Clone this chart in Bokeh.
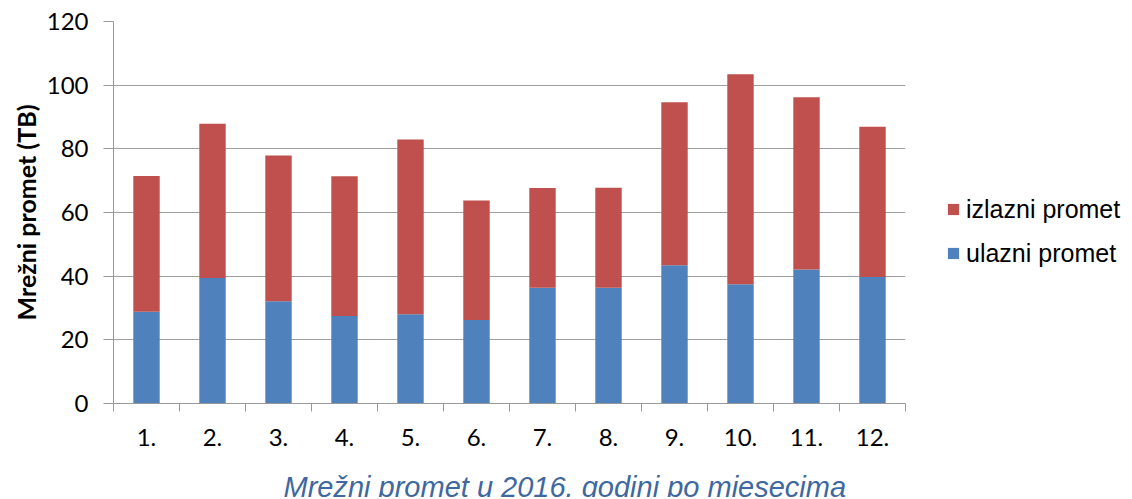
from bokeh.plotting import figure
from bokeh.layouts import column, row
from bokeh.models import (ColumnDataSource, Range1d, FixedTicker, Legend, LegendItem, Label)
from bokeh.embed import file_html
from bokeh.resources import INLINE

months = ["1.", "2.", "3.", "4.", "5.", "6.", "7.", "8.", "9.", "10.", "11.", "12."]
ulazni = [28.8, 39.4, 32.1, 27.5, 28.0, 26.2, 36.4, 36.4, 43.4, 37.5, 42.1, 39.7]
izlazni = [42.7, 48.5, 45.8, 43.9, 54.9, 37.6, 31.3, 31.4, 51.2, 65.9, 54.1, 47.2]
series_names = ["ulazni promet", "izlazni promet"]
series_colors = ["#4F81BD", "#C0504D"]
y_ticks = [0, 20, 40, 60, 80, 100, 120]
title_text = "Mrežni promet u 2016. godini po mjesecima"

pos = [i + 0.5 for i in range(len(months))]
bounds = [i for i in range(len(months) + 1)]

src = ColumnDataSource(dict(x=pos, ulazni=ulazni, izlazni=izlazni))

# ---------------- main chart ----------------
p = figure(width=910, height=455, output_backend="svg", toolbar_location=None,
           x_range=Range1d(0, len(months)), y_range=Range1d(0, 120),
           min_border_left=113, min_border_right=5, min_border_top=21, min_border_bottom=52)
p.outline_line_color = None

p.vbar_stack(["ulazni", "izlazni"], x="x", width=0.4, source=src,
             color=series_colors, line_color=None)

p.xgrid.visible = False
p.ygrid.ticker = FixedTicker(ticks=y_ticks)
p.ygrid.grid_line_color = "#a0a0a0"
p.ygrid.grid_line_width = 1

ya = p.yaxis[0]
ya.ticker = FixedTicker(ticks=y_ticks)
ya.axis_line_color = "#999999"
ya.major_tick_line_color = "#999999"
ya.major_tick_out = 10
ya.major_tick_in = 0
ya.minor_tick_out = 0
ya.minor_tick_in = 0
ya.major_label_text_font = "Lato"
ya.major_label_text_font_size = "24px"
ya.major_label_text_color = "#000000"
ya.major_label_standoff = 15
ya.axis_label = "Mrežni promet (TB)"
ya.axis_label_text_font = "Lato"
ya.axis_label_text_font_style = "bold"
ya.axis_label_text_font_size = "25px"
ya.axis_label_text_color = "#000000"
ya.axis_label_standoff = 3

xa = p.xaxis[0]
xa.ticker = FixedTicker(ticks=pos, minor_ticks=bounds)
xa.major_label_overrides = {pos[i]: months[i] for i in range(len(months))}
xa.axis_line_color = "#999999"
xa.major_tick_out = 0
xa.major_tick_in = 0
xa.minor_tick_out = 8
xa.minor_tick_in = 0
xa.minor_tick_line_color = "#999999"
xa.major_label_text_font = "Lato"
xa.major_label_text_font_size = "24px"
xa.major_label_text_color = "#000000"
xa.major_label_standoff = 17

# ---------------- legend panel ----------------
lg = figure(width=218, height=455, output_backend="svg", toolbar_location=None,
            x_range=Range1d(-100, -99), y_range=Range1d(0, 120),
            x_axis_type=None, y_axis_type=None,
            min_border_left=0, min_border_right=0, min_border_top=0, min_border_bottom=0)
lg.outline_line_color = None
lg.grid.visible = False
lrs = lg.vbar_stack(["ulazni", "izlazni"], x="x", width=0.4, source=src,
                    color=series_colors, line_color=None)
legend = Legend(items=[LegendItem(label=series_names[1], renderers=[lrs[1]]),
                       LegendItem(label=series_names[0], renderers=[lrs[0]])],
                location=(36, 135), orientation="vertical",
                glyph_width=14, glyph_height=14, label_height=30, spacing=14,
                label_standoff=6, padding=0, margin=0,
                border_line_color=None, background_fill_alpha=0,
                label_text_font="Liberation Sans", label_text_font_size="25px",
                label_text_color="#000000")
lg.add_layout(legend, "center")

# ---------------- bottom title ----------------
tf = figure(width=1128, height=42, output_backend="svg", toolbar_location=None,
            x_range=Range1d(0, 1), y_range=Range1d(0, 1),
            x_axis_type=None, y_axis_type=None,
            min_border_left=0, min_border_right=0, min_border_top=0, min_border_bottom=0)
tf.outline_line_color = None
tf.grid.visible = False
tf.add_layout(Label(x=283, y=11, x_units="screen", y_units="screen", text=title_text,
                    text_align="left", text_baseline="alphabetic",
                    text_font="Liberation Sans", text_font_style="italic",
                    text_font_size="29px", text_color="#3E68A0"))

layout = column(row(p, lg, spacing=0), tf, spacing=0)

open("out.html", "w").write(file_html(layout, INLINE))
